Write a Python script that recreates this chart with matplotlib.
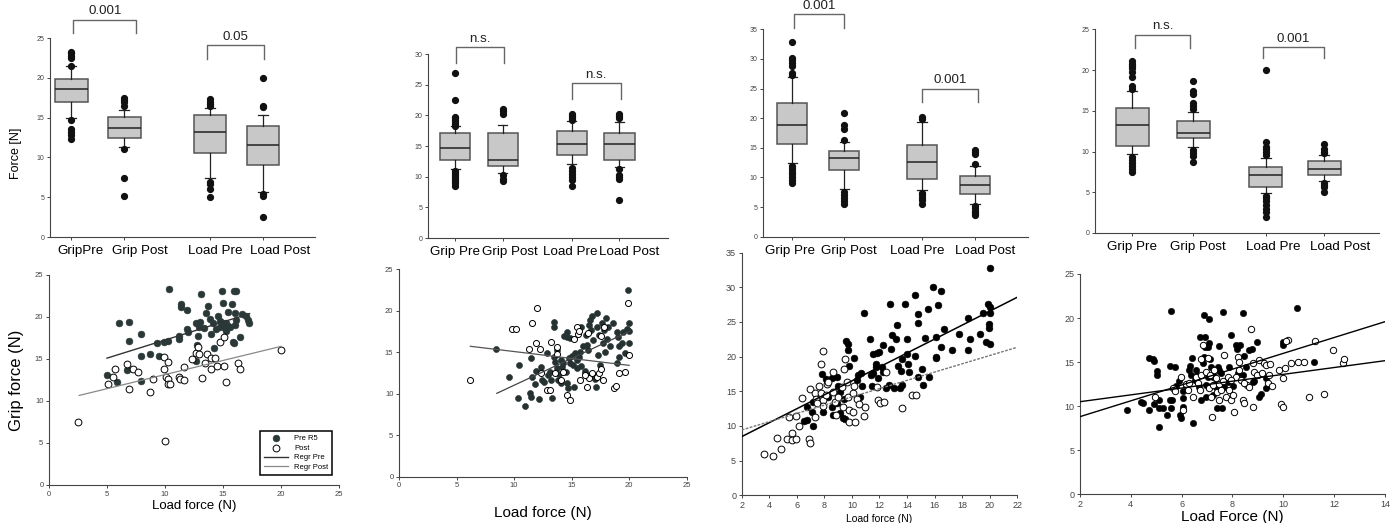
import matplotlib.pyplot as plt
import numpy as np

plt.rcParams.update({'font.family': 'Liberation Sans', 'axes.linewidth': 0.8})

# ---- box plot panels (top row) ----
GROUPS_A = ['GripPre', 'Grip Post', 'Load Pre', 'Load Post']
GROUPS = ['Grip Pre', 'Grip Post', 'Load Pre', 'Load Post']

BOX_MED = [[18.6, 13.7, 13.2, 11.6],
           [14.6, 12.7, 15.3, 15.25],
           [18.8, 13.2, 12.6, 8.7],
           [13.2, 12.25, 7.1, 7.8]]
BOX_Q1 = [[17.0, 12.5, 10.55, 9.0],
          [12.7, 11.7, 13.5, 12.65],
          [15.6, 11.3, 9.7, 7.2],
          [10.7, 11.65, 5.7, 7.1]]
BOX_Q3 = [[19.8, 15.1, 15.3, 14.0],
          [17.2, 17.2, 17.45, 17.1],
          [22.6, 14.4, 15.5, 10.2],
          [15.4, 13.8, 8.05, 8.8]]
BOX_LO = [[14.95, 11.3, 7.4, 5.7],
          [11.2, 10.6, 12.05, 11.65],
          [12.5, 8.1, 7.8, 5.6],
          [9.7, 10.5, 4.9, 6.4]]
BOX_HI = [[21.5, 16.0, 16.2, 15.3],
          [18.3, 18.4, 19.05, 18.9],
          [26.9, 16.0, 19.4, 12.0],
          [17.4, 14.9, 9.15, 9.55]]

FLIERS_A = [[23.3, 23.1, 22.8, 22.5, 21.5, 14.7, 13.6, 13.2, 12.8, 12.3],
            [17.5, 17.2, 16.9, 16.4, 11.0, 7.4, 5.1],
            [17.3, 17.0, 16.7, 16.4, 6.9, 6.6, 6.0, 5.0],
            [20.0, 16.5, 16.3, 5.4, 5.1, 2.5]]
FLIERS_B = [[26.9, 22.5, 19.8, 19.5, 19.2, 18.9, 18.6, 18.3, 10.9, 10.6, 10.3, 10.0, 9.7, 9.3, 8.9, 8.5],
            [21.0, 20.7, 20.3, 10.2, 9.7, 9.3],
            [20.2, 19.9, 19.6, 19.3, 11.4, 10.9, 10.5, 10.0, 9.4, 8.4],
            [20.2, 19.9, 19.5, 11.3, 10.3, 10.0, 9.7, 6.2]]
FLIERS_C = [[32.8, 30.2, 29.8, 29.3, 28.8, 27.7, 27.3, 12.0, 11.5, 11.0, 10.5, 10.0, 9.5, 9.1],
            [20.8, 18.9, 18.2, 16.3, 7.5, 7.0, 6.5, 6.0, 5.6],
            [20.2, 19.9, 7.4, 7.0, 6.6, 6.2, 5.6],
            [14.7, 14.3, 13.9, 12.2, 5.2, 4.8, 4.4, 4.0, 3.6]]
FLIERS_D = [[21.1, 20.8, 20.5, 20.2, 19.8, 19.2, 18.0, 17.7, 9.3, 9.0, 8.6, 8.2, 7.8, 7.5],
            [18.7, 17.4, 17.0, 16.0, 15.6, 15.2, 10.2, 9.8, 9.4, 8.7],
            [20.0, 11.2, 10.6, 10.3, 10.0, 9.6, 4.6, 4.3, 3.9, 3.4, 3.0, 2.6, 2.0],
            [10.9, 10.3, 10.0, 9.8, 6.1, 5.9, 5.6, 5.0]]
FLIERS = [FLIERS_A, FLIERS_B, FLIERS_C, FLIERS_D]

# p-value brackets: (x1, x2, top, bottom, label)
BRACKETS = [[(1.04, 2.23, 27.3, 25.6, '0.001'), (3.56, 4.63, 24.1, 22.4, '0.05')],
            [(1.02, 2.03, 31.1, 28.6, 'n.s.'), (3.45, 4.48, 25.3, 22.7, 'n.s.')],
            [(1.04, 2.0, 37.5, 35.3, '0.001'), (3.5, 4.58, 25.0, 22.7, '0.001')],
            [(1.05, 1.95, 24.35, 22.75, 'n.s.'), (3.15, 4.15, 22.8, 21.5, '0.001')]]

# ---- scatter panels (bottom row) ----
E_PRE = [(4.97, 13.07), (5.9, 12.3), (6.0, 19.25), (6.86, 19.45), (6.92, 17.1), (6.69, 13.7),
         (7.95, 18.0), (7.95, 12.4), (7.9, 15.33), (8.75, 15.6), (9.27, 16.88), (9.5, 15.3),
         (9.9, 17.04), (10.28, 17.15), (10.36, 23.34), (11.19, 17.75), (11.22, 17.35), (11.37, 21.5),
         (11.4, 21.24), (11.88, 20.84), (11.94, 18.58), (12.02, 18.27), (12.66, 19.33), (12.77, 16.68),
         (12.66, 14.78), (12.89, 17.75), (13.06, 19.45), (13.11, 22.74), (12.94, 18.78), (13.34, 18.66),
         (13.51, 20.44), (13.69, 21.35), (13.92, 19.81), (13.97, 17.99), (14.15, 19.25), (14.2, 16.36),
         (14.38, 18.58), (14.6, 20.13), (14.72, 19.53), (14.78, 18.86), (14.95, 23.1), (15.0, 19.25),
         (15.18, 18.66), (15.3, 19.25), (15.47, 18.94), (15.47, 20.56), (15.01, 21.63), (15.76, 21.55),
         (15.87, 17.08), (15.93, 16.88), (15.93, 23.14), (16.16, 23.14), (16.04, 20.52), (16.16, 19.65),
         (16.04, 19.06), (16.5, 17.67), (16.65, 20.36), (16.96, 20.17), (17.16, 19.65), (17.25, 19.25),
         (15.3, 18.38), (15.59, 18.78)]
E_POST = [(2.5, 7.5), (5.05, 12.0), (5.48, 12.84), (5.68, 13.79), (6.69, 14.42), (6.86, 11.41),
          (7.26, 13.79), (7.69, 13.51), (8.67, 11.09), (8.98, 12.6), (9.9, 13.79), (9.9, 15.21),
          (9.99, 5.19), (10.13, 12.84), (10.28, 14.7), (10.22, 12.6), (10.28, 12.0), (10.42, 12.04),
          (11.19, 12.84), (11.28, 12.6), (11.65, 14.02), (11.6, 12.44), (12.37, 15.02), (12.66, 15.69),
          (12.89, 16.48), (12.94, 15.57), (13.17, 12.68), (13.49, 14.5), (13.63, 15.57), (14.0, 15.17),
          (13.97, 13.79), (14.35, 15.17), (14.49, 14.18), (14.78, 17.08), (15.07, 17.59), (15.07, 14.18),
          (15.3, 12.28), (16.3, 14.5), (16.5, 13.79), (20.03, 16.09)]
E_FIT_PRE = [(5.0, 15.1), (17.3, 20.4)]
E_FIT_POST = [(2.6, 10.66), (20.0, 16.5)]

F_PRE = [(8.41, 15.35), (9.57, 11.98), (10.41, 13.42), (10.38, 9.45), (10.93, 8.56), (11.37, 10.13),
         (11.51, 14.35), (11.6, 11.98), (11.84, 11.17), (11.89, 12.78), (12.15, 9.32), (12.3, 13.26),
         (12.47, 11.66), (12.62, 11.46), (12.82, 14.87), (13.11, 12.66), (13.28, 9.45), (13.23, 11.66),
         (13.46, 18.69), (13.49, 18.09), (13.51, 14.47), (13.57, 13.87), (13.75, 13.06), (13.92, 12.38),
         (14.04, 11.25), (14.27, 13.67), (14.33, 16.96), (14.62, 17.48), (14.56, 16.8), (14.5, 12.66),
         (14.7, 10.65), (14.85, 16.68), (14.79, 14.27), (15.0, 14.55), (15.14, 13.46), (15.2, 10.85),
         (15.31, 14.87), (15.43, 14.07), (15.49, 13.06), (15.6, 14.47), (15.72, 15.07), (15.78, 18.01),
         (15.95, 15.76), (16.15, 12.46), (16.24, 17.08), (16.36, 15.88), (16.53, 18.29), (16.59, 18.89),
         (16.73, 19.37), (16.65, 17.68), (16.82, 16.48), (17.02, 11.74), (17.11, 10.85), (17.17, 19.77),
         (17.22, 18.09), (17.4, 17.08), (17.46, 13.46), (17.6, 18.57), (17.69, 16.08), (17.81, 17.68),
         (17.89, 15.07), (17.98, 19.09), (18.04, 16.56), (18.18, 18.09), (18.62, 18.49), (18.91, 17.48),
         (18.91, 13.67), (19.05, 16.88), (19.14, 15.76), (19.14, 14.39), (19.34, 16.08), (19.49, 17.48),
         (19.63, 14.87), (19.78, 17.76), (19.92, 22.51), (20.0, 18.49), (20.0, 17.6), (20.0, 16.08),
         (11.51, 9.65), (12.96, 12.26), (13.69, 15.27), (14.04, 14.07), (14.15, 13.18), (14.85, 13.67),
         (15.84, 13.34), (16.18, 12.78), (16.36, 12.14), (16.82, 12.14), (16.44, 15.27), (17.31, 14.67),
         (18.33, 15.76), (13.83, 11.66), (14.56, 11.25), (12.38, 12.66)]
F_POST = [(6.15, 11.66), (9.86, 17.85), (10.21, 17.85), (11.6, 18.49), (11.95, 20.34), (11.28, 15.43),
          (11.89, 16.08), (12.24, 15.35), (12.38, 12.46), (12.82, 10.45), (13.11, 10.45), (13.25, 16.28),
          (13.69, 15.59), (13.75, 14.79), (13.54, 12.46), (14.04, 11.66), (14.27, 12.66), (14.56, 9.85),
          (14.85, 9.24), (15.2, 16.56), (15.43, 18.09), (15.57, 17.2), (15.72, 11.66), (16.3, 10.77),
          (16.44, 17.28), (16.53, 11.86), (16.73, 12.46), (17.17, 12.06), (17.4, 12.46), (17.52, 12.94),
          (17.52, 16.96), (17.69, 11.66), (17.81, 18.09), (18.68, 10.65), (18.86, 10.93), (19.14, 12.46),
          (19.63, 12.66), (19.92, 20.9), (20.0, 14.67), (16.15, 12.26), (15.66, 17.6)]
F_FIT_PRE = [(8.5, 10.05), (20.0, 17.5)]
F_FIT_POST = [(6.2, 15.72), (20.0, 13.42)]

G_PRE = [(20.02, 32.74), (15.9, 30.1), (16.44, 29.47), (14.58, 28.9), (12.76, 27.55), (13.85, 27.6),
         (16.27, 27.45), (19.9, 27.6), (20.02, 27.2), (20.02, 26.25), (19.49, 26.25), (10.9, 26.25),
         (14.77, 26.1), (15.54, 26.8), (14.82, 24.9), (13.25, 24.57), (16.7, 23.94), (19.97, 24.66),
         (19.97, 24.09), (11.31, 22.6), (12.88, 23.13), (13.2, 22.6), (13.97, 22.5), (15.3, 22.7),
         (16.08, 22.8), (12.23, 21.7), (9.57, 22.2), (9.74, 21.8), (9.74, 20.96), (12.83, 21.03),
         (16.5, 21.4), (17.24, 20.96), (17.8, 23.27), (18.4, 25.63), (18.57, 22.55), (18.4, 20.96),
         (19.3, 23.27), (19.73, 22.16), (20.02, 21.83), (10.17, 19.86), (11.55, 20.34), (11.79, 20.58),
         (11.99, 20.72), (13.97, 20.34), (13.66, 19.62), (14.05, 18.94), (14.58, 20.1), (16.08, 19.76),
         (16.1, 19.98), (11.72, 18.94), (11.72, 18.46), (12.16, 18.46), (12.23, 17.84), (11.92, 16.88),
         (11.5, 17.6), (11.36, 17.36), (13.37, 18.65), (13.54, 17.93), (14.14, 17.79), (14.82, 17.12),
         (15.11, 18.17), (15.62, 17.02), (13.49, 15.43), (13.61, 15.91), (13.05, 15.43), (12.71, 15.91),
         (12.47, 15.43), (11.43, 15.77), (10.71, 15.77), (10.42, 17.36), (10.66, 17.6), (10.39, 16.63),
         (15.18, 15.91), (9.81, 18.65), (8.94, 17.12), (8.53, 16.88), (8.98, 15.77), (9.13, 14.95),
         (7.8, 17.45), (10.59, 14.23), (9.42, 13.85), (8.9, 13.27), (8.53, 12.79), (8.29, 14.23),
         (7.2, 13.5), (7.88, 12.07), (8.6, 11.59), (9.38, 11.2), (9.13, 11.83), (9.5, 10.96),
         (6.72, 12.69), (7.15, 10.05), (6.52, 10.77), (6.76, 10.87), (7.08, 12.07), (8.12, 16.73)]
G_POST = [(3.62, 5.91), (4.25, 5.72), (4.59, 8.32), (4.83, 6.68), (5.31, 8.08), (5.63, 8.94),
          (5.63, 7.98), (5.94, 8.08), (5.46, 11.35), (5.94, 11.49), (6.16, 10.0), (6.35, 13.99),
          (6.91, 8.13), (6.96, 15.29), (7.32, 14.71), (7.39, 13.85), (7.44, 13.27), (7.32, 11.35),
          (7.63, 15.77), (7.93, 20.87), (7.73, 18.94), (7.73, 14.71), (7.88, 13.75), (7.88, 12.88),
          (8.12, 14.47), (8.22, 16.01), (8.29, 16.39), (8.65, 17.74), (8.6, 14.95), (8.77, 13.51),
          (8.84, 11.59), (9.01, 14.23), (9.25, 15.58), (9.33, 12.79), (9.5, 19.62), (9.45, 18.17),
          (9.62, 16.39), (9.74, 14.23), (9.81, 12.31), (9.81, 10.63), (10.1, 12.07), (10.1, 14.71),
          (10.15, 15.77), (10.22, 10.53), (10.34, 13.85), (10.54, 13.17), (10.9, 11.44), (10.95, 12.79),
          (11.79, 15.67), (11.92, 13.75), (12.04, 13.27), (12.33, 13.51), (12.47, 17.84), (13.61, 12.64),
          (14.38, 14.47), (14.65, 14.47), (6.96, 7.5)]
G_FIT_PRE = [(2.0, 8.46), (22.0, 28.56)]
G_FIT_POST = [(2.0, 9.42), (22.0, 21.35)]

H_PRE = [(3.85, 9.51), (4.4, 10.49), (4.49, 10.38), (4.7, 15.49), (4.86, 15.3), (4.92, 15.15),
         (5.02, 13.98), (5.03, 13.52), (4.73, 9.51), (4.92, 10.23), (5.12, 10.68), (5.12, 9.73),
         (5.28, 9.73), (5.12, 7.58), (5.41, 8.98), (5.54, 10.68), (5.58, 9.73), (5.54, 14.55),
         (5.75, 14.47), (5.58, 20.83), (5.62, 10.68), (5.78, 12.27), (5.88, 12.88), (5.95, 8.98),
         (5.97, 8.6), (6.04, 9.92), (6.04, 10.87), (6.07, 11.74), (6.17, 12.39), (6.37, 13.52),
         (6.33, 14.55), (6.43, 8.11), (6.52, 12.95), (6.56, 14.09), (6.41, 15.42), (6.7, 12.2),
         (6.72, 17.8), (6.83, 14.85), (6.89, 20.34), (6.93, 17.88), (6.93, 16.67), (7.02, 16.67),
         (7.02, 13.33), (6.96, 11.06), (7.09, 19.85), (7.09, 17.2), (7.11, 15.3), (7.15, 14.47),
         (7.22, 13.33), (7.25, 11.25), (7.35, 12.2), (7.38, 9.73), (7.42, 14.47), (7.48, 14.09),
         (7.55, 13.71), (7.61, 20.72), (7.46, 16.82), (7.59, 9.73), (7.68, 12.2), (7.85, 14.39),
         (7.94, 18.07), (8.01, 12.27), (8.14, 16.93), (8.16, 16.44), (8.2, 13.71), (8.3, 16.93),
         (8.4, 20.53), (8.47, 15.68), (8.53, 14.47), (8.66, 16.36), (8.77, 16.44), (8.82, 12.77),
         (8.95, 17.31), (8.99, 13.52), (9.06, 11.06), (9.12, 11.36), (9.32, 12.01), (9.32, 13.14),
         (9.42, 12.39), (9.97, 17.31), (10.0, 16.93), (10.52, 21.1), (11.22, 15.04), (8.86, 12.88),
         (6.6, 13.52), (7.81, 12.77), (7.33, 12.5), (8.43, 13.52), (6.28, 14.09), (6.87, 15.53),
         (6.96, 12.39), (6.76, 10.68)]
H_POST = [(4.96, 10.98), (5.65, 12.0), (5.75, 11.74), (5.97, 13.26), (6.07, 9.55), (6.17, 12.5),
          (6.24, 11.82), (6.3, 12.65), (6.43, 11.06), (6.56, 13.33), (6.63, 12.65), (6.72, 11.82),
          (6.76, 13.52), (6.76, 15.3), (6.85, 16.93), (6.96, 13.9), (7.02, 15.42), (7.06, 12.0),
          (7.11, 13.52), (7.15, 11.06), (7.2, 8.79), (7.22, 12.39), (7.29, 14.09), (7.35, 13.14),
          (7.38, 11.63), (7.46, 12.5), (7.48, 10.68), (7.55, 11.82), (7.61, 12.88), (7.68, 15.8),
          (7.74, 11.06), (7.81, 13.33), (7.85, 11.82), (7.94, 10.68), (8.01, 11.25), (8.07, 9.36),
          (8.14, 13.33), (8.2, 15.6), (8.24, 15.04), (8.27, 14.09), (8.33, 12.95), (8.4, 10.68),
          (8.47, 10.3), (8.56, 12.39), (8.66, 12.2), (8.73, 18.71), (8.79, 14.85), (8.82, 9.92),
          (8.86, 13.9), (8.95, 13.52), (9.06, 15.23), (9.16, 13.71), (9.25, 14.85), (9.32, 14.66),
          (9.38, 12.58), (9.45, 13.52), (9.48, 14.77), (9.55, 12.27), (9.84, 14.09), (9.91, 10.23),
          (9.97, 9.92), (10.0, 13.14), (10.08, 14.28), (10.17, 17.5), (10.3, 14.92), (10.56, 15.04),
          (10.83, 15.04), (11.0, 10.98), (11.26, 17.39), (11.61, 11.36), (11.94, 16.36), (12.36, 14.85),
          (12.4, 15.3), (10.1, 17.4), (8.47, 12.58), (7.94, 12.95)]
H_FIT_A = [(2.0, 8.79), (14.0, 19.58)]
H_FIT_B = [(2.0, 10.49), (14.0, 15.15)]

# ---- layout ----
fig = plt.figure(figsize=(13.96, 5.23), dpi=100)

BOX_RECTS = [(0.0358, 0.5468, 0.1898, 0.3805), (0.3066, 0.5449, 0.1719, 0.3518),
             (0.5466, 0.5474, 0.1898, 0.3966), (0.7844, 0.5545, 0.2034, 0.3895)]
BOX_POS = [[1, 2, 3.62, 4.62], [1, 2, 3.45, 4.45], [1, 2, 3.5, 4.52], [1, 2, 3.19, 4.15]]
BOX_XLIM = [(0.6, 5.6), (0.43, 5.47), (0.44, 5.54), (0.39, 5.05)]
BOX_W = [0.62, 0.64, 0.59, 0.54]
BOX_YMAX = [25, 30, 35, 25]
LABEL_POS = [[1.17, 2.3, 3.72, 4.94], [1.0, 2.15, 3.41, 4.65],
             [0.96, 2.09, 3.4, 4.71], [1.0, 2.07, 3.32, 4.41]]

for i in range(4):
    ax = fig.add_axes(BOX_RECTS[i])
    ax.set_facecolor('none')
    stats = []
    for j in range(4):
        stats.append(dict(med=BOX_MED[i][j], q1=BOX_Q1[i][j], q3=BOX_Q3[i][j],
                          whislo=BOX_LO[i][j], whishi=BOX_HI[i][j],
                          fliers=np.array(FLIERS[i][j])))
    w = BOX_W[i]
    ax.bxp(stats, positions=BOX_POS[i], widths=w, patch_artist=True,
           capwidths=w * 0.3,
           boxprops=dict(facecolor='#c8c8c8', edgecolor='#555555', linewidth=1.1),
           medianprops=dict(color='#222222', linewidth=1.1),
           whiskerprops=dict(color='#222222', linewidth=0.9),
           capprops=dict(color='#222222', linewidth=0.9),
           flierprops=dict(marker='o', markerfacecolor='#111111', markeredgecolor='#111111',
                           markersize=4.2, linestyle='none'))
    ax.set_xlim(*BOX_XLIM[i])
    ax.set_ylim(0, BOX_YMAX[i])
    ax.set_yticks(np.arange(0, BOX_YMAX[i] + 1, 5))
    ax.xaxis.remove_overlapping_locs = False
    ax.set_xticks(BOX_POS[i])
    ax.set_xticklabels([])
    ax.set_xticks(LABEL_POS[i], minor=True)
    ax.set_xticklabels(GROUPS_A if i == 0 else GROUPS, minor=True, fontsize=9.6)
    ax.tick_params(axis='x', which='minor', length=0, pad=6)
    ax.tick_params(axis='x', which='major', length=2.5, width=0.7, color='#444444')
    ax.tick_params(axis='y', length=2.5, width=0.7, color='#444444', labelsize=5, labelcolor='#444444', pad=1.5)
    for s in ['top', 'right']:
        ax.spines[s].set_visible(False)
    for s in ['left', 'bottom']:
        ax.spines[s].set_color('#444444')
    for (x1, x2, top, bot, lab) in BRACKETS[i]:
        ax.plot([x1, x1, x2, x2], [bot, top, top, bot], color='#666666', lw=1, clip_on=False)
        ax.text((x1 + x2) / 2, top + BOX_YMAX[i] * 0.012, lab, ha='center', va='bottom',
                fontsize=9.6, color='#222222', clip_on=False)
    if i == 0:
        ax.set_ylabel('Force [N]', fontsize=9)
        ax.yaxis.set_label_coords(-0.105, 0.42)

SC_RECTS = [(0.0351, 0.0727, 0.2077, 0.4015), (0.2858, 0.0885, 0.2061, 0.3966),
            (0.5313, 0.0530, 0.1974, 0.4640), (0.7736, 0.0554, 0.2185, 0.4207)]
SC_XLIM = [(0, 25), (0, 25), (2, 22), (2, 14)]
SC_YMAX = [25, 25, 35, 25]
SC_XTICKS = [np.arange(0, 26, 5), np.arange(0, 26, 5), np.arange(2, 23, 2), np.arange(2, 15, 2)]
SC_PRE = [E_PRE, F_PRE, G_PRE, H_PRE]
SC_POST = [E_POST, F_POST, G_POST, H_POST]
SC_FITS = [(E_FIT_PRE, E_FIT_POST), (F_FIT_PRE, F_FIT_POST), (G_FIT_PRE, G_FIT_POST), (H_FIT_A, H_FIT_B)]
DOT_COLOR = ['#2a3838', '#263232', '#000000', '#000000']
DOT_SIZE = [24, 19, 24, 21]
TICK_FS = [5.5, 5.5, 6.5, 6.5]
XLABELS = ['Load force (N)', 'Load force (N)', 'Load force (N)', 'Load Force (N)']
XLABEL_FS = [9.5, 11, 7.5, 11]
XLABEL_PAD = [2, 12, 3, 1]

for i in range(4):
    ax = fig.add_axes(SC_RECTS[i])
    ax.set_facecolor('none')
    pre = np.array(SC_PRE[i])
    post = np.array(SC_POST[i])
    fpre = np.array(SC_FITS[i][0])
    fpost = np.array(SC_FITS[i][1])
    ax.scatter(pre[:, 0], pre[:, 1], s=DOT_SIZE[i], c=DOT_COLOR[i], edgecolors=DOT_COLOR[i],
               linewidths=0.4, label='Pre R5', zorder=2)
    ax.scatter(post[:, 0], post[:, 1], s=DOT_SIZE[i], facecolors='white', edgecolors='black',
               linewidths=0.7, label='Post', zorder=3)
    if i == 0:
        ax.plot(fpre[:, 0], fpre[:, 1], color='#333333', lw=1.0, label='Regr Pre', zorder=4)
        ax.plot(fpost[:, 0], fpost[:, 1], color='#888888', lw=0.9, label='Regr Post', zorder=4)
    elif i == 1:
        ax.plot(fpre[:, 0], fpre[:, 1], color='#444444', lw=0.9, zorder=4)
        ax.plot(fpost[:, 0], fpost[:, 1], color='#555555', lw=0.9, zorder=4)
    elif i == 2:
        ax.plot(fpre[:, 0], fpre[:, 1], color='black', lw=1.1, zorder=4)
        ax.plot(fpost[:, 0], fpost[:, 1], color='#777777', lw=1.0, ls=(0, (2, 1)), zorder=4)
    else:
        ax.plot(fpre[:, 0], fpre[:, 1], color='black', lw=1.0, zorder=4)
        ax.plot(fpost[:, 0], fpost[:, 1], color='black', lw=1.0, zorder=4)
    ax.set_xlim(*SC_XLIM[i])
    ax.set_ylim(0, SC_YMAX[i])
    ax.set_xticks(SC_XTICKS[i])
    ax.set_yticks(np.arange(0, SC_YMAX[i] + 1, 5))
    ax.tick_params(length=2.5, width=0.7, color='#444444', labelsize=TICK_FS[i],
                   labelcolor='#444444', pad=1.5)
    for s in ['top', 'right']:
        ax.spines[s].set_visible(False)
    for s in ['left', 'bottom']:
        ax.spines[s].set_color('#444444')
    ax.set_xlabel(XLABELS[i], fontsize=XLABEL_FS[i], labelpad=XLABEL_PAD[i])
    if i == 0:
        ax.set_ylabel('Grip force (N)', fontsize=12, labelpad=8)
        leg = ax.legend(loc='lower right', bbox_to_anchor=(0.99, 0.03), fontsize=5.5,
                        frameon=True, fancybox=False, edgecolor='black', framealpha=1,
                        handlelength=3.2, borderpad=0.5, labelspacing=0.3)
        leg.get_frame().set_linewidth(1.1)

fig.savefig('out.png', dpi=100)
